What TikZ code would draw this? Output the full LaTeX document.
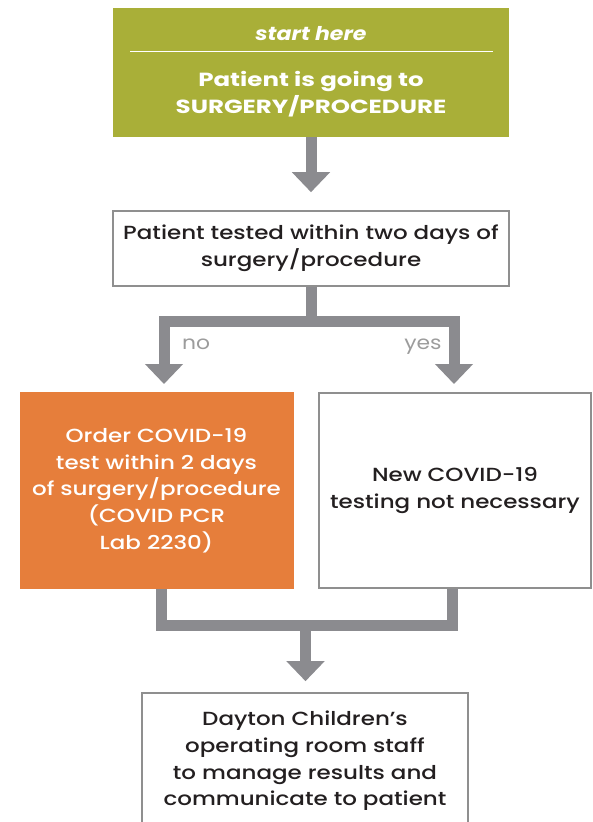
\documentclass[tikz,border=0pt]{standalone}
\usepackage{fontspec}
\setmainfont{Poppins}[UprightFont={* Medium},BoldFont={* Bold},ItalicFont={* Italic},BoldItalicFont={* Bold Italic},FakeStretch=1.21]
\newfontfamily\goingfont{Poppins Bold}[FakeStretch=1.29]
\newfontfamily\herefont{Poppins Bold Italic}[FakeStretch=1.16]
\newfontfamily\labelfont{Poppins}[FakeStretch=1.15]
\usetikzlibrary{arrows.meta,calc}
\definecolor{startgreen}{HTML}{A9AF38}
\definecolor{orderorange}{HTML}{E67E3B}
\definecolor{flowgray}{HTML}{8B8B8F}
\definecolor{boxgray}{HTML}{8F8F8F}
\definecolor{inkdark}{HTML}{231F20}
\definecolor{labelgray}{HTML}{9C9C9C}
\tikzstyle{flowbox}=[draw=boxgray,line width=1.6pt,fill=white,text=inkdark,align=center,inner sep=0pt]
\tikzstyle{fillbox}=[text=white,align=center,inner sep=0pt]
\tikzstyle{flowline}=[draw=flowgray,line width=11pt]
\tikzstyle{flowarrow}=[flowline,-{Triangle[width=37pt,length=20pt]}]

\begin{document}
\begin{tikzpicture}[x=1pt,y=-1pt,font=\fontsize{19}{26.7}\selectfont]
    \useasboundingbox (0,0) rectangle (593,822);

    \node[fillbox,fill=startgreen,minimum width=396pt,minimum height=129pt] (start) at (311,72.5) {};
    \node[fillbox,font=\fontsize{19}{26.7}\herefont] (starthere) at (311,34) {start here};
    \draw[white,line width=1pt] (130,51) -- (493,51);
    \node[fillbox,font=\fontsize{19}{26.7}\goingfont] (going) at (311,94) {Patient is going to\\SURGERY/PROCEDURE};

    \node[flowbox,minimum width=396pt,minimum height=75pt] (test) at (311,248.5) {Patient tested within two days of\\surgery/procedure};

    \node[fillbox,fill=orderorange,minimum width=274pt,minimum height=197pt] (order) at (156.5,490.5)
        {Order COVID-19\\test within 2 days\\of surgery/procedure\\(COVID PCR\\Lab 2230)};
    \node[flowbox,minimum width=272pt,minimum height=195pt] (nonew) at (455,490.5) {New COVID-19\\testing not necessary};

    \node[flowbox,minimum width=326pt,minimum height=136pt] (manage) at (305,761)
        {Dayton Children's\\operating room staff\\to manage results and\\communicate to patient};

    \draw[flowarrow,shorten >=18pt] (start.south) -- (test.north);

    \coordinate (split) at ($(test.south)+(0,35)$);
    \coordinate (noin) at (164,392);
    \coordinate (yesin) at (454,392);
    \draw[flowline] (test.south) -- (split);
    \draw[flowarrow,shorten >=8pt] (split) -| (noin);
    \draw[flowarrow,shorten >=8pt] (split) -| (yesin);
    \node[text=labelgray,font=\fontsize{19}{26.7}\labelfont,anchor=base] (no) at (196,349) {no};
    \node[text=labelgray,font=\fontsize{19}{26.7}\labelfont,anchor=base] (yes) at (423,349) {yes};

    \coordinate (noout) at (161,589);
    \coordinate (yesout) at (452,589);
    \coordinate (merge) at (305.5,625.5);
    \draw[flowline] (noout) |- (merge) -| (yesout);
    \draw[flowarrow,shorten >=11pt] (merge) -- (merge |- manage.north);

\end{tikzpicture}
\end{document}
